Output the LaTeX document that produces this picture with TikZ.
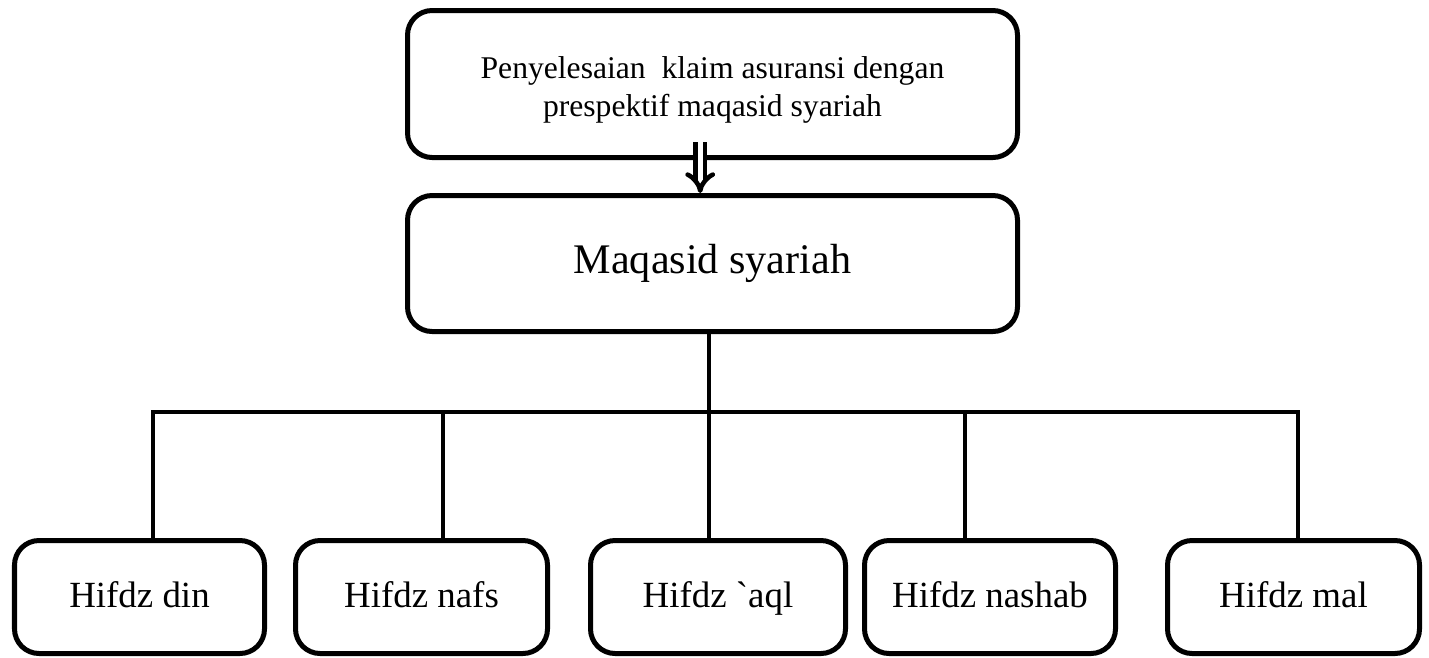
\documentclass[tikz,border=0pt]{standalone}
\usepackage{fontspec}
\setmainfont{Liberation Serif}[Ligatures=TeXOff]
\usetikzlibrary{arrows.meta}

\begin{document}
\begin{tikzpicture}[x=0.02cm,y=-0.02cm,
    box/.style={draw,rounded corners=14pt,line width=2.85pt,inner sep=0pt,align=center},
    aim/.style={box,minimum height=113*0.02cm,text height=1.4em,text depth=0.22em,
      font=\fontsize{21}{25}\selectfont},
    link/.style={line width=2.3pt},
    hollow/.style={line width=2.6pt,double=white,double distance=2.8pt,-{Implies}}]
  \useasboundingbox (0,0) rectangle (1429,657);
  % the theme and the main concept
  \node[box,minimum width=610*0.02cm,minimum height=147*0.02cm,text height=40.5pt,
    font=\fontsize{18}{21.5}\selectfont] (topic) at (712.5,84)
    {Penyelesaian\ \ klaim asuransi dengan\\prespektif maqasid syariah};
  \node[box,minimum width=610*0.02cm,minimum height=136*0.02cm,
    font=\fontsize{24}{28}\selectfont] (maqasid) at (712.5,263.5) {Maqasid syariah};
  \draw[hollow] ([xshift=-7pt,yshift=10pt]topic.south) -- ([xshift=-7pt]maqasid.north);
  % the five objectives
  \foreach \n/\cx/\w/\t in {din/139.5/250/Hifdz din,nafs/421.5/252/Hifdz nafs,
      aql/718/255/Hifdz `aql,nashab/990/251/Hifdz nashab,mal/1293.5/252/Hifdz mal}
    \node[aim,minimum width=\w*0.02cm] (\n) at (\cx,597) {\t};
  \coordinate (hub) at (709,412);
  \foreach \n/\x in {din/153,nafs/443,aql/709,nashab/965,mal/1298}
    \coordinate (d\n) at (\x,412);
  \draw[link] (maqasid.south -| hub) -- (hub);
  \draw[link] (ddin |- din.north) -- (ddin) -- (dmal) -- (dmal |- mal.north);
  \foreach \n in {nafs,aql,nashab}
    \draw[link] (d\n) -- (d\n |- \n.north);
\end{tikzpicture}
\end{document}
